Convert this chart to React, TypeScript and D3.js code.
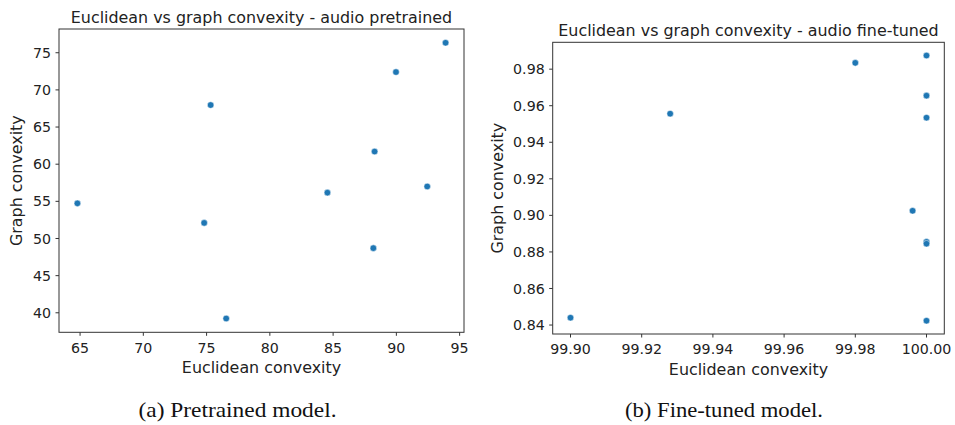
import React from "react";
import * as d3 from "d3";

// Pretrained model data
const preEuclid = [93.89, 89.97, 75.32, 88.28, 64.79, 84.55, 92.44, 74.81, 88.18, 76.55];
const preGraph = [76.34, 72.4, 67.96, 61.7, 54.73, 56.17, 57.0, 52.1, 48.7, 39.23];
const preXTicks = [65, 70, 75, 80, 85, 90, 95];
const preYTicks = [40, 45, 50, 55, 60, 65, 70, 75];

// Fine-tuned model data
const ftEuclid = [100.0, 99.98, 100.0, 100.0, 99.928, 99.9961, 100.0, 100.0, 99.9, 100.0];
const ftGraph = [0.98744, 0.98345, 0.9655, 0.95344, 0.95563, 0.9025, 0.8855, 0.8845, 0.844, 0.84235];
const ftXTicks = [99.9, 99.92, 99.94, 99.96, 99.98, 100.0];
const ftYTicks = [0.84, 0.86, 0.88, 0.9, 0.92, 0.94, 0.96, 0.98];

const titles = [
  "Euclidean vs graph convexity - audio pretrained",
  "Euclidean vs graph convexity - audio fine-tuned",
];
const captions = ["(a) Pretrained model.", "(b) Fine-tuned model."];
const xLabel = "Euclidean convexity";
const yLabel = "Graph convexity";

const FONT = "DejaVu Sans, sans-serif";
const TEXT = "#222";
const AXIS = "#333";
const DOT = "#1f77b4";

function pad(ext: [number, number]): [number, number] {
  const r = ext[1] - ext[0];
  return [ext[0] - 0.05 * r, ext[1] + 0.05 * r];
}

type PanelProps = {
  xs: number[];
  ys: number[];
  xTicks: number[];
  yTicks: number[];
  xFmt: (v: number) => string;
  yFmt: (v: number) => string;
  box: { x0: number; x1: number; y0: number; y1: number };
  title: string;
  yLabelX: number;
};

function Panel({ xs, ys, xTicks, yTicks, xFmt, yFmt, box, title, yLabelX }: PanelProps) {
  const x = d3.scaleLinear().domain(pad(d3.extent(xs) as [number, number])).range([box.x0, box.x1]);
  const y = d3.scaleLinear().domain(pad(d3.extent(ys) as [number, number])).range([box.y1, box.y0]);
  const cx = (box.x0 + box.x1) / 2;
  const cy = (box.y0 + box.y1) / 2;
  return (
    <g fontFamily={FONT} fill={TEXT}>
      <text x={cx} y={box.y0 - 6.3} textAnchor="middle" fontSize={15.9}>
        {title}
      </text>
      {xTicks.map((t) => (
        <g key={"x" + t}>
          <line x1={x(t)} x2={x(t)} y1={box.y1} y2={box.y1 + 3.5} stroke={AXIS} strokeWidth={1} />
          <text x={x(t)} y={box.y1 + 20.4} textAnchor="middle" fontSize={14.2}>
            {xFmt(t)}
          </text>
        </g>
      ))}
      {yTicks.map((t) => (
        <g key={"y" + t}>
          <line x1={box.x0 - 3.5} x2={box.x0} y1={y(t)} y2={y(t)} stroke={AXIS} strokeWidth={1} />
          <text x={box.x0 - 8} y={y(t) + 5.1} textAnchor="end" fontSize={14.2}>
            {yFmt(t)}
          </text>
        </g>
      ))}
      {xs.map((v, i) => (
        <circle key={i} cx={x(v)} cy={y(ys[i])} r={3.3} fill={DOT} stroke="#fff" strokeWidth={0.5} />
      ))}
      <rect
        x={box.x0}
        y={box.y0}
        width={box.x1 - box.x0}
        height={box.y1 - box.y0}
        fill="none"
        stroke={AXIS}
        strokeWidth={1}
      />
      <text x={cx} y={box.y1 + 40.8} textAnchor="middle" fontSize={15.9}>
        {xLabel}
      </text>
      <text
        transform={`translate(${yLabelX},${cy}) rotate(-90)`}
        textAnchor="middle"
        fontSize={15.9}
      >
        {yLabel}
      </text>
    </g>
  );
}

export default function App() {
  return (
    <svg
      width={955}
      height={425}
      viewBox="0 0 955 425"
      style={{ position: "absolute", left: 0, top: 0, background: "#fff" }}
    >
      <rect width={955} height={425} fill="#fff" />
      <Panel
        xs={preEuclid}
        ys={preGraph}
        xTicks={preXTicks}
        yTicks={preYTicks}
        xFmt={(v) => d3.format("d")(v)}
        yFmt={(v) => d3.format("d")(v)}
        box={{ x0: 59, x1: 464, y0: 29, y1: 332.3 }}
        title={titles[0]}
        yLabelX={21.5}
      />
      <Panel
        xs={ftEuclid}
        ys={ftGraph}
        xTicks={ftXTicks}
        yTicks={ftYTicks}
        xFmt={(v) => d3.format(".2f")(v)}
        yFmt={(v) => d3.format(".2f")(v)}
        box={{ x0: 552.7, x1: 944.3, y0: 42.3, y1: 334 }}
        title={titles[1]}
        yLabelX={503}
      />
      <text
        x={237.5}
        y={416.7}
        textAnchor="middle"
        fontFamily="Liberation Serif, Times New Roman, serif"
        fontSize={21.5}
        textLength={198}
        lengthAdjust="spacingAndGlyphs"
        fill="#111"
      >
        {captions[0]}
      </text>
      <text
        x={724}
        y={416.7}
        textAnchor="middle"
        fontFamily="Liberation Serif, Times New Roman, serif"
        fontSize={21.5}
        textLength={198}
        lengthAdjust="spacingAndGlyphs"
        fill="#111"
      >
        {captions[1]}
      </text>
    </svg>
  );
}
